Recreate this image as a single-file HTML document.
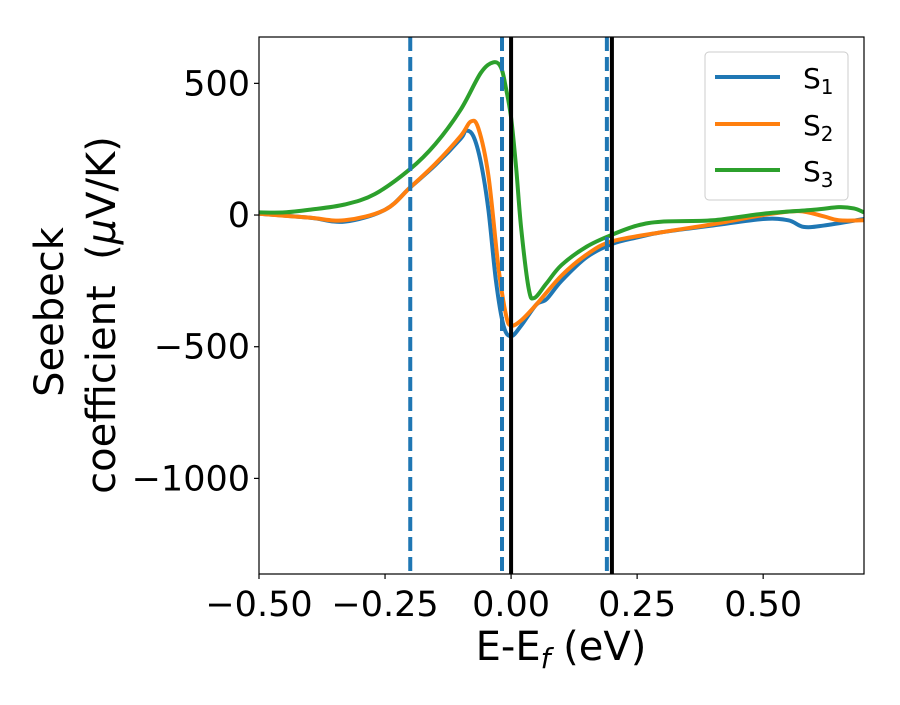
<!DOCTYPE html>
<html><head><meta charset="utf-8"><style>
body{margin:0;background:#fff}
svg text{font-family:"DejaVu Sans","Liberation Sans",sans-serif;fill:#000}
</style></head><body>
<svg id="chart" width="900" height="700" viewBox="0 0 900 700" xmlns="http://www.w3.org/2000/svg"></svg>
<script>
const s1X=[-0.5,-0.4,-0.33,-0.25,-0.2,-0.15,-0.1,-0.09,-0.075,-0.06,-0.045,-0.03,-0.015,0,0.02,0.05,0.07,0.1,0.15,0.2,0.25,0.3,0.4,0.5,0.55,0.58,0.62,0.7];
const s1Y=[5,-10,-25,20,105,190,290,320,300,200,20,-250,-420,-460,-420,-340,-320,-250,-160,-110,-85,-65,-40,-15,-20,-45,-40,-15];
const s2X=[-0.5,-0.4,-0.33,-0.25,-0.2,-0.15,-0.1,-0.08,-0.065,-0.045,-0.025,-0.01,0,0.02,0.05,0.1,0.15,0.2,0.3,0.4,0.5,0.57,0.62,0.65,0.7];
const s2Y=[5,-10,-20,20,105,195,300,355,330,150,-200,-380,-420,-400,-340,-230,-150,-100,-65,-35,0,15,-5,-20,-20];
const s3X=[-0.5,-0.45,-0.4,-0.33,-0.27,-0.2,-0.15,-0.1,-0.06,-0.035,-0.02,-0.01,0,0.01,0.02,0.035,0.046,0.07,0.1,0.15,0.2,0.25,0.3,0.4,0.5,0.6,0.65,0.68,0.7];
const s3Y=[10,10,20,40,80,175,270,400,540,580,560,480,370,180,-50,-280,-315,-260,-190,-120,-75,-40,-25,-20,5,20,30,25,10];
const xTicks=[-0.5,-0.25,0,0.25,0.5];
const xTickLabels=["\u22120.50","\u22120.25","0.00","0.25","0.50"];
const yTicks=[500,0,-500,-1000];
const yTickLabels=["500","0","\u2212500","\u22121000"];
const dashedLines=[-0.2,-0.018,0.19];
const solidLines=[0,0.2];
const seriesNames=["1","2","3"];
const colors=["#1f77b4","#ff7f0e","#2ca02c"];

const L=259,R=864,T=37,B=574,XMIN=-0.5,XMAX=0.7,YMIN=-1363,YMAX=676;
const sx=v=>L+(v-XMIN)/(XMAX-XMIN)*(R-L);
const sy=v=>B-(v-YMIN)/(YMAX-YMIN)*(B-T);
const svg=document.getElementById('chart');
const NS="http://www.w3.org/2000/svg";
function mk(tag,attrs,parent){const e=document.createElementNS(NS,tag);for(const k in attrs)e.setAttribute(k,attrs[k]);(parent||svg).appendChild(e);return e;}

const clip=mk('clipPath',{id:'pc'});mk('rect',{x:L,y:T,width:R-L,height:B-T},clip);
const plot=mk('g',{'clip-path':'url(#pc)'});



function smooth(xs,ys){
  const p=xs.map((x,i)=>[sx(x),sy(ys[i])]);
  let d=`M${p[0][0]},${p[0][1]}`;
  for(let i=0;i<p.length-1;i++){
    const p0=p[Math.max(0,i-1)],p1=p[i],p2=p[i+1],p3=p[Math.min(p.length-1,i+2)];
    const c1=[p1[0]+(p2[0]-p0[0])/6,p1[1]+(p2[1]-p0[1])/6];
    const c2=[p2[0]-(p3[0]-p1[0])/6,p2[1]-(p3[1]-p1[1])/6];
    d+=` C${c1[0]},${c1[1]} ${c2[0]},${c2[1]} ${p2[0]},${p2[1]}`;
  }
  return d;
}
const data=[[s1X,s1Y],[s2X,s2Y],[s3X,s3Y]];
data.forEach((s,i)=>{
  const e=mk('path',{d:smooth(s[0],s[1]),fill:'none',stroke:colors[i],'stroke-width':4,'stroke-linejoin':'round'},plot);
  
  
});
dashedLines.forEach(v=>{
  const e=mk('line',{x1:sx(v),x2:sx(v),y1:T,y2:B,stroke:'#1f77b4','stroke-width':4,'stroke-dasharray':'14,6'},plot);
  
  
});
solidLines.forEach(v=>{
  const e=mk('line',{x1:sx(v),x2:sx(v),y1:T,y2:B,stroke:'#000','stroke-width':4},plot);
  
  
});
const frame=mk('rect',{x:L,y:T,width:R-L,height:B-T,fill:'none',stroke:'#000','stroke-width':1.2});



xTicks.forEach((v,i)=>{
  mk('line',{x1:sx(v),x2:sx(v),y1:B,y2:B+5,stroke:'#000','stroke-width':1.2});
  const t=mk('text',{x:sx(v),y:B+42,'text-anchor':'middle','font-size':35});
  t.textContent=xTickLabels[i];
  
  
});
yTicks.forEach((v,i)=>{
  mk('line',{x1:L-5,x2:L,y1:sy(v),y2:sy(v),stroke:'#000','stroke-width':1.2});
  const t=mk('text',{x:L-9,y:sy(v)+12,'text-anchor':'end','font-size':35});
  t.textContent=yTickLabels[i];
  
  
});
</script>
<svg style="position:absolute;left:0;top:0" width="900" height="700">
<text x="561" y="660" text-anchor="middle" font-size="40" style="font-family:'DejaVu Sans',sans-serif">E-E<tspan font-style="italic" font-size="28" dy="8">f</tspan><tspan dy="-8"> (eV)</tspan></text>
<g style="font-family:'DejaVu Sans',sans-serif" font-size="40">
<text transform="translate(63,312) rotate(-90)" text-anchor="middle">Seebeck</text>
<text transform="translate(115,315) rotate(-90)" text-anchor="middle">coefficient&#160; (<tspan font-style="italic">μ</tspan>V/K)</text>
</g>
<g>
<rect x="705" y="52" width="143" height="148" rx="4" fill="#fff" fill-opacity="0.8" stroke="#ccc" stroke-width="1"/>
<line x1="715" x2="780" y1="77" y2="77" stroke="#1f77b4" stroke-width="4"/>
<line x1="715" x2="780" y1="124" y2="124" stroke="#ff7f0e" stroke-width="4"/>
<line x1="715" x2="780" y1="170" y2="170" stroke="#2ca02c" stroke-width="4"/>
<text x="803" y="88" font-size="28" style="font-family:'DejaVu Sans',sans-serif">S<tspan font-size="20" dy="6">1</tspan></text>
<text x="803" y="135" font-size="28" style="font-family:'DejaVu Sans',sans-serif">S<tspan font-size="20" dy="6">2</tspan></text>
<text x="803" y="181" font-size="28" style="font-family:'DejaVu Sans',sans-serif">S<tspan font-size="20" dy="6">3</tspan></text>
</g>
</svg>
</body></html>
